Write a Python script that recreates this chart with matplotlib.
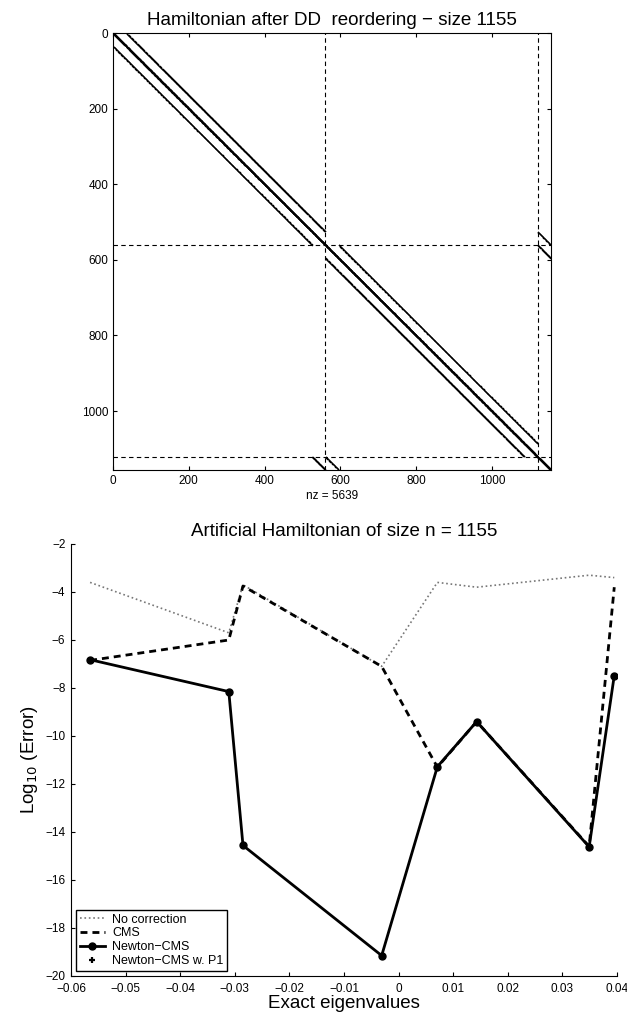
import numpy as np
import matplotlib
matplotlib.use("Agg")
import matplotlib.pyplot as plt

plt.rcParams['font.family'] = ['Liberation Sans', 'DejaVu Sans']

# grid behind the Hamiltonian: 35 points per line, 33 lines, middle line is the separator
nx = 35
ny = 33
sep_line = 16

# log10 errors
eig_x = [-0.0565, -0.0311, -0.0285, -0.0031, 0.0071, 0.0143, 0.0349, 0.0395]
no_corr = [-3.6, -5.7, -3.7, -7.1, -3.6, -3.8, -3.3, -3.4]
cms = [-6.85, -6.0, -3.75, -7.1, -11.3, -9.4, -14.6, -3.8]
newton_cms = [-6.82, -8.15, -14.56, -19.15, -11.28, -9.4, -14.62, -7.48]
newton_p1 = [-6.82, -8.15, -14.56, -19.15, -11.28, -9.4, -14.62, -7.48]

# --- build the 5-point pattern and the DD ordering (separator last) ---
n = nx * ny
perm = []
for j in range(ny):
    if j != sep_line:
        perm.extend(range(j * nx, (j + 1) * nx))
perm.extend(range(sep_line * nx, (sep_line + 1) * nx))
new_idx = np.empty(n, dtype=int)
new_idx[perm] = np.arange(n)

rows, cols = [], []
for j in range(ny):
    for i in range(nx):
        k = j * nx + i
        rows.append(k); cols.append(k)
        if i + 1 < nx:
            rows += [k, k + 1]; cols += [k + 1, k]
        if j + 1 < ny:
            rows += [k, k + nx]; cols += [k + nx, k]
rows = new_idx[np.array(rows)] + 1
cols = new_idx[np.array(cols)] + 1
nz = len(rows)
d1 = sep_line * nx
d2 = n - nx

fig = plt.figure(figsize=(6.27, 10.19), dpi=100)

# top: spy plot
ax1 = fig.add_axes([113 / 627, 1 - 470 / 1019, 438 / 627, 437 / 1019])
ax1.plot(cols, rows, 'o', ms=1.1, mew=0, color='k')
for p in (d1 + 0.5, d2 + 0.5):
    ax1.axvline(p, color='k', lw=0.8, ls=(0, (4, 3)))
    ax1.axhline(p, color='k', lw=0.8, ls=(0, (4, 3)))
ax1.set_xlim(0, n + 1)
ax1.set_ylim(n + 1, 0)
ax1.set_xticks(range(0, 1001, 200))
ax1.set_yticks(range(0, 1001, 200))
ax1.tick_params(direction='in', length=3, labelsize=8.5, top=True, right=True)
ax1.set_xlabel('nz = %d' % nz, fontsize=8.5, labelpad=2)
ax1.set_title('Hamiltonian after DD  reordering \u2212 size %d' % n, fontsize=13.5, pad=6)

# bottom: errors
ax2 = fig.add_axes([71 / 627, 1 - 976 / 1019, 546 / 627, 432 / 1019])
ax2.plot(eig_x, newton_p1, '+', color='k', ms=5, mew=1.6, zorder=1, label='Newton\u2212CMS w. P1')
ax2.plot(eig_x, no_corr, ':', color='#777777', lw=1.2, zorder=2, label='No correction')
ax2.plot(eig_x, cms, '--', color='k', lw=2, dashes=(2.5, 1.8), zorder=3, label='CMS')
ax2.plot(eig_x, newton_cms, '-o', color='k', lw=2, ms=5, zorder=4, label='Newton\u2212CMS')
ax2.set_xlim(-0.06, 0.04)
ax2.set_ylim(-20, -2)
ax2.set_xticks(np.linspace(-0.06, 0.04, 11))
ax2.set_xticklabels(['\u22120.06', '\u22120.05', '\u22120.04', '\u22120.03', '\u22120.02', '\u22120.01',
                     '0', '0.01', '0.02', '0.03', '0.04'])
ax2.set_yticks(range(-20, -1, 2))
ax2.tick_params(direction='in', length=3, labelsize=8.5)
ax2.tick_params(axis='x', pad=5)
ax2.tick_params(axis='y', pad=4)
ax2.spines['top'].set_visible(False)
ax2.spines['right'].set_visible(False)
ax2.set_xlabel('Exact eigenvalues', fontsize=13.5, labelpad=0)
ax2.set_ylabel('Log$_{10}$ (Error)', fontsize=13.5)
ax2.set_title('Artificial Hamiltonian of size n = %d' % n, fontsize=13.5, pad=6)

h, l = ax2.get_legend_handles_labels()
order = [1, 2, 3, 0]
leg = ax2.legend([h[i] for i in order], [l[i] for i in order], loc='lower left',
                 fontsize=9, fancybox=False, edgecolor='k', framealpha=1,
                 labelspacing=0.15, handlelength=2.0, handletextpad=0.6,
                 borderaxespad=0.4, borderpad=0.3)
leg.get_frame().set_linewidth(1)

fig.savefig('out.png', dpi=100)
